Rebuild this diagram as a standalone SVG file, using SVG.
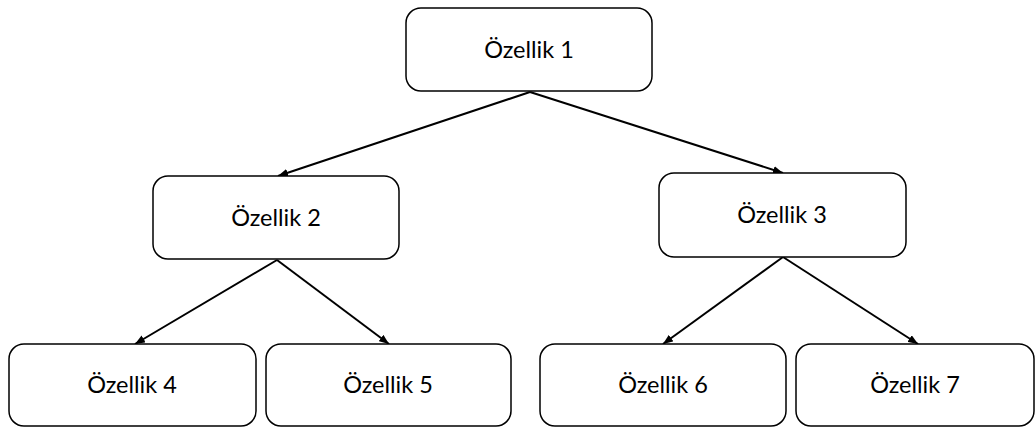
<svg xmlns="http://www.w3.org/2000/svg" width="1036" height="427" viewBox="0 0 1036 427">
  <style>
    .box { fill: #ffffff; stroke: #000000; stroke-width: 1.5; }
    .label { font-family: "Lato", "Liberation Sans", sans-serif; font-size: 23.5px; fill: #000000; text-anchor: middle; }
    .edge { fill: none; stroke: #000000; stroke-width: 2; marker-end: url(#arrow); }
  </style>
  <defs>
    <marker id="arrow" viewBox="0 0 10 8" refX="10" refY="4" markerWidth="10" markerHeight="8" markerUnits="userSpaceOnUse" orient="auto">
      <path d="M0,0 L10,4 L0,8 Z" fill="#000000"/>
    </marker>
  </defs>
  <rect width="1036" height="427" fill="#ffffff"/>

  <g id="connectors">
    <line class="edge" x1="530" y1="92" x2="278" y2="176"/>
    <line class="edge" x1="530" y1="92" x2="783" y2="173"/>
    <line class="edge" x1="277" y1="260" x2="135" y2="344"/>
    <line class="edge" x1="277" y1="260" x2="389" y2="344"/>
    <line class="edge" x1="783" y1="257" x2="663" y2="344"/>
    <line class="edge" x1="783" y1="257" x2="918" y2="344"/>
  </g>

  <g id="node1">
    <rect class="box" x="406" y="8" width="246" height="83" rx="15"/>
    <text class="label" x="529" y="58">Özellik 1</text>
  </g>
  <g id="node2">
    <rect class="box" x="153" y="176" width="246" height="83" rx="15"/>
    <text class="label" x="276" y="226">Özellik 2</text>
  </g>
  <g id="node3">
    <rect class="box" x="659" y="173" width="247" height="84" rx="15"/>
    <text class="label" x="782" y="223">Özellik 3</text>
  </g>
  <g id="node4">
    <rect class="box" x="9" y="344" width="247" height="82" rx="15"/>
    <text class="label" x="132" y="393">Özellik 4</text>
  </g>
  <g id="node5">
    <rect class="box" x="266" y="344" width="245" height="82" rx="15"/>
    <text class="label" x="388" y="393">Özellik 5</text>
  </g>
  <g id="node6">
    <rect class="box" x="540" y="344" width="246" height="82" rx="15"/>
    <text class="label" x="663" y="393">Özellik 6</text>
  </g>
  <g id="node7">
    <rect class="box" x="796" y="344" width="238" height="82" rx="15"/>
    <text class="label" x="915" y="393">Özellik 7</text>
  </g>
</svg>
